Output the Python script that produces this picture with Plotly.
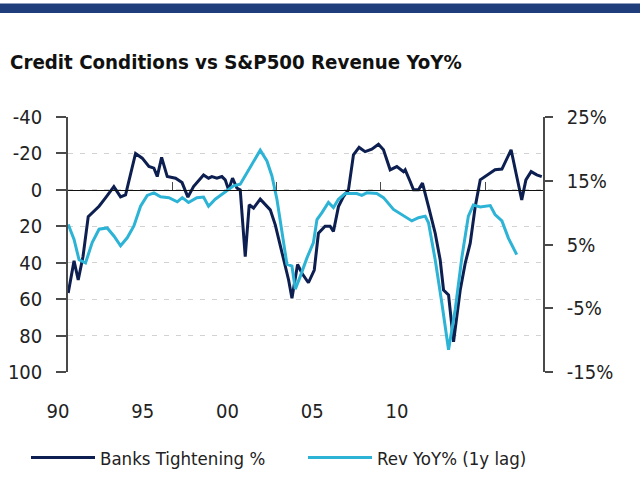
import plotly.graph_objects as go

# ---- data ----
bank_years = [1990.01, 1990.29, 1990.49, 1990.72, 1990.97, 1991.49, 1991.79, 1992.20, 1992.52, 1992.76,
              1993.24, 1993.56, 1993.88, 1994.12, 1994.28, 1994.49, 1994.76, 1995.16, 1995.47, 1995.75,
              1996.02, 1996.50, 1996.74, 1996.90, 1997.14, 1997.38, 1997.54, 1997.70, 1997.89, 1998.10,
              1998.26, 1998.50, 1998.69, 1998.90, 1999.22, 1999.46, 1999.70, 1999.94, 2000.26, 2000.58,
              2000.74, 2001.01, 2001.22, 2001.53, 2001.81, 2002.01, 2002.33, 2002.57, 2002.73, 2002.97,
              2003.21, 2003.45, 2003.69, 2003.96, 2004.25, 2004.57, 2004.89, 2005.13, 2005.45, 2005.77,
              2006.09, 2006.17, 2006.41, 2006.57, 2006.81, 2007.00, 2007.29, 2007.61, 2007.85, 2008.01,
              2008.25, 2008.49, 2008.81, 2009.05, 2009.29, 2009.53, 2009.77, 2010.09, 2010.48, 2010.81,
              2011.04, 2011.25, 2011.52, 2011.76, 2011.96, 2012.21, 2012.48, 2012.72]
bank_tightening = [56.6, 39, 49.5, 36.6, 14.7, 9, 4.5, -1.8, 3.8, 2.7,
                   -20, -17.4, -12.8, -11.9, -7.3, -17.8, -7.3, -6.4, -4, 4,
                   -1.8, -8.2, -6.4, -7.3, -6.4, -7.3, -5.5, 0, -6.4, -1,
                   0, 36.6, 8.2, 10, 5.1, 8.2, 11, 19.2, 34.8, 49.5,
                   59.5, 41, 45.8, 51, 44, 23.8, 20, 20, 22.9, 9.2,
                   3.7, 0, -19.2, -23.3, -21, -22.3, -25, -22, -11, -12.8,
                   -10, -11, -4.6, 0, 0, -3.7, 9.2, 23.8, 38.5, 55,
                   57.7, 83.4, 55, 40.3, 29.3, 9.2, -5.5, -8.2, -11, -11.4,
                   -16.5, -22, -7.3, 5.5, -5.5, -10, -8.2, -7.3]

rev_years = [1990.01, 1990.29, 1990.53, 1990.84, 1991.16, 1991.49, 1991.88, 1992.21, 1992.52, 1992.84,
             1993.16, 1993.48, 1993.80, 1994.12, 1994.44, 1994.84, 1995.24, 1995.48, 1995.78, 1996.18,
             1996.50, 1996.74, 1997.06, 1997.38, 1997.70, 1997.94, 1998.26, 1998.58, 1998.90, 1999.22,
             1999.54, 1999.78, 2000.02, 2000.26, 2000.50, 2000.74, 2000.90, 2001.14, 2001.46, 2001.77,
             2001.94, 2002.18, 2002.49, 2002.73, 2002.97, 2003.29, 2003.85, 2004.09, 2004.33, 2004.81,
             2005.13, 2005.61, 2006.09, 2006.49, 2006.81, 2007.13, 2007.29, 2007.61, 2007.93, 2008.25,
             2008.57, 2008.89, 2009.20, 2009.44, 2009.77, 2010.25, 2010.48, 2010.81, 2011.12, 2011.52]
rev_yoy = [8.15, 5.8, 2.6, 2.1, 5.3, 7.4, 7.6, 6.3, 4.8, 6.05,
           7.9, 11.0, 12.7, 13.1, 12.5, 12.35, 11.7, 12.35, 11.6, 12.35,
           12.45, 11.0, 12.1, 12.9, 13.7, 14.2, 14.45, 16.3, 18.1, 19.8,
           18.1, 15.75, 12.1, 6.85, 1.9, 1.6, -2.0, 0.0, 2.9, 5.3,
           8.9, 10.0, 11.6, 10.8, 12.1, 13.0, 13.0, 12.7, 13.1, 13.0,
           12.35, 10.5, 9.45, 8.7, 9.2, 9.45, 8.4, 2.6, -4.2, -11.5,
           -5.2, 3.0, 9.45, 11.2, 10.9, 11.1, 9.7, 8.7, 6.0, 3.4]

x_label_pos = [1990, 1995, 2000, 2005, 2010]
x_label_text = ["90", "95", "00", "05", "10"]
x_tick_marks = [1995, 2000, 2005, 2010]
left_ticks = [-40, -20, 0, 20, 40, 60, 80, 100]
left_tick_text = ["-40", "-20", "0", "20", "40", "60", "80", "100"]
right_ticks = [-15, -5, 5, 15, 25]
right_tick_text = ["-15%", "-5%", "5%", "15%", "25%"]

NAVY = "#0d1f50"
CYAN = "#2cb3d5"
AXIS = "#4a4a4a"
TXT = "#222222"
FONT = "DejaVu Sans Condensed, Liberation Sans Narrow, sans-serif"

fig = go.Figure()
fig.add_trace(go.Scatter(x=rev_years, y=rev_yoy, name="Rev YoY% (1y lag)", yaxis="y2",
                         mode="lines", line=dict(color=CYAN, width=3), legend="legend2"))
fig.add_trace(go.Scatter(x=bank_years, y=bank_tightening, name="Banks Tightening %",
                         mode="lines", line=dict(color=NAVY, width=3), legend="legend"))
fig.add_trace(go.Scatter(x=[2000], y=[0], xaxis="x2", mode="markers", marker=dict(opacity=0),
                         showlegend=False, hoverinfo="skip"))

legend_common = dict(orientation="h", xanchor="left", yanchor="middle", itemwidth=64,
                     xref="paper", yref="container", y=(480 - 458) / 480,
                     font=dict(family=FONT, size=18.5, color=TXT), bgcolor="rgba(0,0,0,0)",
                     borderwidth=0)

fig.update_layout(
    template="none",
    width=640, height=480, autosize=False,
    margin=dict(l=68, r=97, t=117, b=108),
    paper_bgcolor="white", plot_bgcolor="white",
    font=dict(family=FONT, size=20, color=TXT),
    title=dict(text="<b>Credit Conditions vs S&P500 Revenue YoY%</b>",
               x=10 / 640, xanchor="left", xref="container",
               y=1 - 62 / 480, yanchor="middle", yref="container",
               font=dict(family=FONT, size=20.3, color="#111111")),
    xaxis=dict(range=[1990.0, 2012.78], anchor="free", position=100 / 140,
               showline=True, linecolor="#111111", linewidth=1.3, automargin=False,
               tickvals=x_tick_marks, ticks="inside", ticklen=8, tickcolor=AXIS, tickwidth=1,
               showticklabels=False, showgrid=False, zeroline=False),
    xaxis2=dict(overlaying="x", side="bottom", anchor="y", range=[1989.41, 2017.43],
                tickvals=x_label_pos, ticktext=x_label_text, ticks="", showline=False,
                showgrid=False, zeroline=False, ticklabelstandoff=25, ticklabelshift=-20,
                automargin=False, tickfont=dict(family=FONT, size=20, color=TXT)),
    yaxis=dict(range=[100, -40], tickvals=left_ticks, ticktext=left_tick_text,
               ticks="outside", ticklen=10, automargin=False,
               tickcolor=AXIS, tickwidth=1.5, showline=True, linecolor=AXIS, linewidth=1.5,
               showgrid=True, gridcolor="#d2d2d2", griddash="5px,7px", gridwidth=1,
               zeroline=False, ticklabelstandoff=10,
               tickfont=dict(family=FONT, size=20, color=TXT)),
    yaxis2=dict(range=[-15, 25], overlaying="y", side="right", tickvals=right_ticks,
                ticktext=right_tick_text, ticks="outside", ticklen=8, tickcolor=AXIS,
                tickwidth=1.5, showline=True, linecolor=AXIS, linewidth=1.5, automargin=False,
                showgrid=False, zeroline=False, ticklabelstandoff=10,
                tickfont=dict(family=FONT, size=20, color=TXT)),
    legend=dict(x=(26 - 68) / 475, **legend_common),
    legend2=dict(x=(303 - 68) / 475, **legend_common),
    shapes=[dict(type="rect", xref="paper", yref="paper",
                 x0=-0.15, x1=1.22, y0=(372 - 13) / 255, y1=(372 - 3.5) / 255,
                 fillcolor="#1f3d7a", line=dict(width=0), layer="above")],
)

fig.write_html("out.html")
